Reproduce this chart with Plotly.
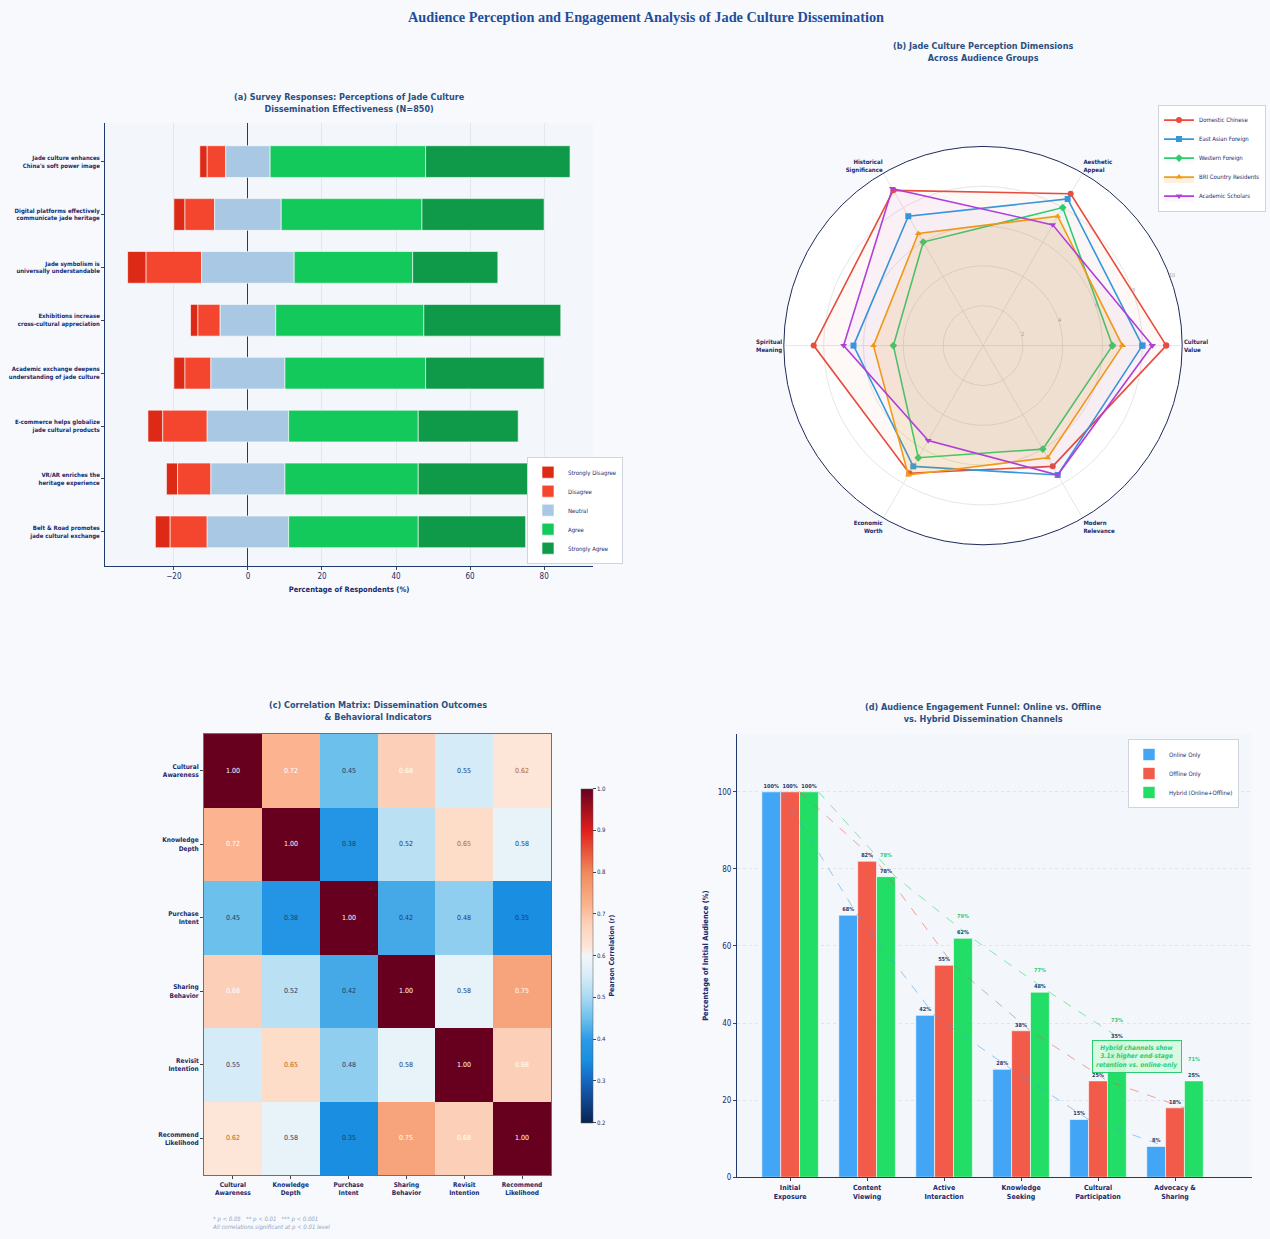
import plotly.graph_objects as go

W, H = 1270, 1239

# ---------------- (a) Likert survey (N=850) ----------------
statements = [
    "Jade culture enhances<br>China's soft power image",
    "Digital platforms effectively<br>communicate jade heritage",
    "Jade symbolism is<br>universally understandable",
    "Exhibitions increase<br>cross-cultural appreciation",
    "Academic exchange deepens<br>understanding of jade culture",
    "E-commerce helps globalize<br>jade cultural products",
    "VR/AR enriches the<br>heritage experience",
    "Belt & Road promotes<br>jade cultural exchange",
]
strongly_disagree = [2, 3, 5, 2, 3, 4, 3, 4]
disagree = [5, 8, 15, 6, 7, 12, 9, 10]
neutral = [12, 18, 25, 15, 20, 22, 20, 22]
agree = [42, 38, 32, 40, 38, 35, 36, 35]
strongly_agree = [39, 33, 23, 37, 32, 27, 32, 29]
likert_labels = ["Strongly Disagree", "Disagree", "Neutral", "Agree", "Strongly Agree"]

# ---------------- (b) radar perception dimensions ----------------
dimensions = ["Cultural<br>Value", "Aesthetic<br>Appeal", "Historical<br>Significance",
              "Spiritual<br>Meaning", "Economic<br>Worth", "Modern<br>Relevance"]
groups = ["Domestic Chinese", "East Asian Foreign", "Western Foreign",
          "BRI Country Residents", "Academic Scholars"]
domestic_chinese = [9.2, 8.8, 9.0, 8.5, 7.4, 7.0]
east_asian_foreign = [8.0, 8.5, 7.5, 6.5, 7.0, 7.5]
western_foreign = [6.5, 8.0, 6.0, 4.5, 6.5, 6.0]
bri_residents = [7.0, 7.5, 6.5, 5.5, 7.5, 6.5]
academic_scholars = [8.5, 7.0, 9.1, 7.0, 5.5, 7.5]

# ---------------- (c) correlation matrix ----------------
indicators = ["Cultural<br>Awareness", "Knowledge<br>Depth", "Purchase<br>Intent",
              "Sharing<br>Behavior", "Revisit<br>Intention", "Recommend<br>Likelihood"]
corr_cultural_awareness = [1.00, 0.72, 0.45, 0.68, 0.55, 0.62]
corr_knowledge_depth = [0.72, 1.00, 0.38, 0.52, 0.65, 0.58]
corr_purchase_intent = [0.45, 0.38, 1.00, 0.42, 0.48, 0.35]
corr_sharing_behavior = [0.68, 0.52, 0.42, 1.00, 0.58, 0.75]
corr_revisit_intention = [0.55, 0.65, 0.48, 0.58, 1.00, 0.68]
corr_recommend_likelihood = [0.62, 0.58, 0.35, 0.75, 0.68, 1.00]

# ---------------- (d) engagement funnel ----------------
stages = ["Initial<br>Exposure", "Content<br>Viewing", "Active<br>Interaction",
          "Knowledge<br>Seeking", "Cultural<br>Participation", "Advocacy &<br>Sharing"]
online_only = [100, 68, 42, 28, 15, 8]
offline_only = [100, 82, 55, 38, 25, 18]
hybrid = [100, 78, 62, 48, 35, 25]
channel_names = ["Online Only", "Offline Only", "Hybrid (Online+Offline)"]

# ---------------- styling ----------------
FONT = "Liberation Sans Narrow, DejaVu Sans Condensed, Open Sans, sans-serif"
NAVY = "#1b2a6b"
TITLE_BLUE = "#2b4f81"
PAPER = "#f8f9fc"
PLOT_BG = "#f3f6fa"


def fx(px):
    return px / W


def fy(py):
    return 1 - py / H


fig = go.Figure()

# ---- (a) diverging stacked bars ----
likert_colors = ["#dc2a16", "#f4452f", "#a9c8e4", "#14c95c", "#0e9a48"]
segments = [strongly_disagree, disagree, neutral, agree, strongly_agree]
bases = [[], [], [], [], []]
for i in range(len(statements)):
    half = neutral[i] / 2
    bases[0].append(-(half + disagree[i] + strongly_disagree[i]))
    bases[1].append(-(half + disagree[i]))
    bases[2].append(-half)
    bases[3].append(half)
    bases[4].append(half + agree[i])

for k, name in enumerate(likert_labels):
    fig.add_trace(go.Bar(
        y=statements, x=segments[k], base=bases[k], orientation="h",
        name=name, marker=dict(color=likert_colors[k], line=dict(color="white", width=0.6)),
        width=0.6, xaxis="x", yaxis="y", legend="legend",
        hovertemplate="%{y}<br>" + name + ": %{x}%<extra></extra>",
    ))

# ---- (b) radar ----
radar_series = [domestic_chinese, east_asian_foreign, western_foreign, bri_residents, academic_scholars]
radar_colors = ["#e74c3c", "#3498db", "#2ecc71", "#f39c12", "#b03fd8"]
radar_fill = ["rgba(231,76,60,0.04)", "rgba(52,152,219,0.02)", "rgba(46,204,113,0.03)",
              "rgba(243,156,18,0.14)", "rgba(176,63,216,0.04)"]
radar_symbols = ["circle", "square", "diamond", "triangle-up", "triangle-down"]
for name, vals, col, fc, sym in zip(groups, radar_series, radar_colors, radar_fill, radar_symbols):
    fig.add_trace(go.Scatterpolar(
        r=vals + vals[:1], theta=dimensions + dimensions[:1], name=name,
        mode="lines+markers", fill="toself", fillcolor=fc,
        line=dict(color=col, width=1.6), marker=dict(symbol=sym, size=6, color=col),
        subplot="polar", legend="legend2",
    ))

# ---- (c) heatmap ----
corr = [corr_cultural_awareness, corr_knowledge_depth, corr_purchase_intent,
        corr_sharing_behavior, corr_revisit_intention, corr_recommend_likelihood]
corr_scale = [
    [0.0, "#08234f"], [0.125, "#1565c0"], [0.1875, "#1a8ee0"], [0.25, "#2b9ae6"],
    [0.3125, "#6cc0ec"], [0.375, "#a8d8f2"], [0.4375, "#d6ebf8"], [0.5, "#f3f6f9"],
    [0.525, "#fde6d8"], [0.5625, "#fddcc8"], [0.6, "#fcd0b8"], [0.65, "#fbb48f"],
    [0.75, "#f08a5d"], [0.875, "#e0201c"], [1.0, "#67001f"],
]
fig.add_trace(go.Heatmap(
    z=corr, x=indicators, y=indicators, zmin=0.2, zmax=1.0, colorscale=corr_scale,
    xaxis="x2", yaxis="y2", hovertemplate="%{y} / %{x}: %{z:.2f}<extra></extra>",
    colorbar=dict(
        x=fx(571), xanchor="left", y=fy(959.5), yanchor="middle",
        len=355 / H, lenmode="fraction", thickness=12, outlinewidth=0.5, outlinecolor="#555",
        tickvals=[0.2, 0.3, 0.4, 0.5, 0.6, 0.7, 0.8, 0.9, 1.0],
        ticktext=["0.2", "0.3", "0.4", "0.5", "0.6", "0.7", "0.8", "0.9", "1.0"],
        ticks="outside", ticklen=3,
        tickfont=dict(size=6, color=NAVY, family=FONT),
        title=dict(text="Pearson Correlation (r)", side="right",
                   font=dict(size=7, color=NAVY, family=FONT, weight="bold")),
    ),
))

annotations = []
for r, row in enumerate(corr):
    for c, v in enumerate(row):
        if v >= 0.66:
            tc = "white"
        elif v >= 0.6:
            tc = "#b5651d"
        else:
            tc = "#1a3a6b"
        annotations.append(dict(
            x=indicators[c], y=indicators[r], xref="x2", yref="y2", text=f"{v:.2f}",
            showarrow=False, font=dict(size=7, color=tc, family=FONT),
        ))

# ---- (d) grouped funnel bars ----
funnel_series = [online_only, offline_only, hybrid]
funnel_colors = ["#42a5f5", "#f25a4a", "#22dd66"]
bar_w = 0.245
offsets = [-1.5 * bar_w, -0.5 * bar_w, 0.5 * bar_w]
stage_pos = list(range(len(stages)))
for name, vals, col, off in zip(channel_names, funnel_series, funnel_colors, offsets):
    fig.add_trace(go.Bar(
        x=stage_pos, y=vals, name=name, width=bar_w, offset=off,
        marker=dict(color=col, line=dict(color="white", width=0.6)),
        text=[f"{v}%" for v in vals], textposition="outside", textangle=0,
        constraintext="none", cliponaxis=False,
        textfont=dict(size=5.5, color="#1f3a6b", family=FONT, weight="bold"),
        xaxis="x3", yaxis="y3", legend="legend3",
    ))
for vals, col, off in zip(funnel_series, funnel_colors, offsets):
    fig.add_trace(go.Scatter(
        x=[p + off + bar_w for p in stage_pos], y=vals, mode="lines",
        line=dict(color=col, width=1, dash="dash"), opacity=0.55,
        xaxis="x3", yaxis="y3", showlegend=False, hoverinfo="skip",
    ))

# stage-to-stage conversion for the hybrid channel
for i in range(1, len(hybrid)):
    conv = round(hybrid[i] / hybrid[i - 1] * 100)
    annotations.append(dict(
        x=stage_pos[i] + offsets[2] + bar_w / 2, y=hybrid[i], xref="x3", yref="y3",
        text=f"{conv}%", showarrow=False, yshift=22,
        font=dict(size=5.5, color="#2ecc71", family=FONT, weight="bold"),
    ))

ratio = hybrid[-1] / online_only[-1]
annotations.append(dict(
    x=4.51, y=31.3, xref="x3", yref="y3",
    text=f"<i>Hybrid channels show<br>{ratio:.1f}x higher end-stage<br>retention vs. online-only</i>",
    showarrow=False, font=dict(size=6.5, color="#2ecc71", family=FONT, weight="bold"),
    bgcolor="rgba(214,248,224,0.92)", bordercolor="#2ecc71", borderwidth=1, borderpad=3,
))


def paper_text(x, y, text, font, **kw):
    d = dict(x=fx(x), y=fy(y), xref="paper", yref="paper", text=text, showarrow=False,
             xanchor="center", yanchor="middle", font=font)
    d.update(kw)
    return d


# ---- titles ----
title_font = dict(size=9, color=TITLE_BLUE, family=FONT, weight="bold")
annotations += [
    paper_text(646, 17, "Audience Perception and Engagement Analysis of Jade Culture Dissemination",
               dict(size=14.3, color="#1f4e9c", family="Liberation Serif, DejaVu Serif, serif", weight="bold")),
    paper_text(349, 103.5,
               "(a) Survey Responses: Perceptions of Jade Culture<br>Dissemination Effectiveness (N=850)",
               title_font),
    paper_text(983, 52.5, "(b) Jade Culture Perception Dimensions<br>Across Audience Groups", title_font),
    paper_text(378, 713.5, "(c) Correlation Matrix: Dissemination Outcomes<br>& Behavioral Indicators",
               title_font),
    paper_text(983, 715.5,
               "(d) Audience Engagement Funnel: Online vs. Offline<br>vs. Hybrid Dissemination Channels",
               title_font),
    paper_text(210, 1228,
               "<i>* p < 0.05   ** p < 0.01   *** p < 0.001<br>All correlations significant at p < 0.01 level</i>",
               dict(size=6, color="#8aa4c8", family=FONT), xanchor="left", align="left"),
]

tick_font_a = dict(size=6, color=NAVY, family=FONT, weight="bold")
tick_font = dict(size=6.5, color=NAVY, family=FONT, weight="bold")
axis_title_font = dict(size=7.5, color=NAVY, family=FONT, weight="bold")
legend_common = dict(bgcolor="white", bordercolor="#d0d4dc", borderwidth=1,
                     font=dict(size=6, color=NAVY, family=FONT),
                     itemwidth=30, tracegroupgap=0)

fig.update_layout(
    width=W, height=H, margin=dict(l=0, r=0, t=0, b=0),
    paper_bgcolor=PAPER, plot_bgcolor=PLOT_BG, barmode="overlay",
    font=dict(family=FONT, color=NAVY),
    annotations=annotations,
    # (a)
    xaxis=dict(domain=[fx(105), fx(593)], range=[-38.6, 93.2],
               tickvals=[-20, 0, 20, 40, 60, 80], showgrid=True, gridcolor="#e3e8ef",
               zeroline=True, zerolinecolor="#1f3a6b", zerolinewidth=1.2,
               showline=True, linecolor="#1f3a6b", linewidth=1, ticks="outside", ticklen=3,
               tickfont=dict(size=8, color=NAVY, family=FONT),
               title=dict(text="Percentage of Respondents (%)", font=axis_title_font, standoff=6),
               anchor="y"),
    yaxis=dict(domain=[fy(568), fy(124)], range=[7.64, -0.72], type="category",
               showline=True, linecolor="#1f3a6b", linewidth=1, ticks="outside", ticklen=3,
               tickfont=tick_font_a, showgrid=False, anchor="x"),
    legend=dict(x=fx(527), y=fy(566), xanchor="left", yanchor="bottom", **legend_common),
    # (b)
    polar=dict(
        domain=dict(x=[fx(783), fx(1183)], y=[fy(547), fy(147)]),
        bgcolor="white",
        radialaxis=dict(range=[0, 10], tickvals=[2, 4, 6, 8, 10], angle=22, tickangle=22,
                        showline=False, gridcolor="#e6e6e6", ticks="",
                        tickfont=dict(size=5.5, color="#9aa0a8", family=FONT)),
        angularaxis=dict(rotation=0, direction="counterclockwise",
                         linecolor="#1f2a5a", linewidth=1, gridcolor="#e6e6e6", ticks="",
                         tickfont=dict(size=6, color=NAVY, family=FONT, weight="bold")),
    ),
    legend2=dict(x=fx(1266), y=fy(105), xanchor="right", yanchor="top", **legend_common),
    # (c)
    xaxis2=dict(domain=[fx(204), fx(551)], anchor="y2", tickfont=tick_font,
                showline=True, mirror=True, linecolor="#a0603a", linewidth=1,
                ticks="outside", ticklen=3, showgrid=False),
    yaxis2=dict(domain=[fy(1180), fy(737)], anchor="x2", autorange="reversed", tickfont=tick_font,
                showline=True, mirror=True, linecolor="#a0603a", linewidth=1,
                ticks="outside", ticklen=3, showgrid=False),
    # (d)
    xaxis3=dict(domain=[fx(737), fx(1252)], anchor="y3", range=[-0.69, 6.0],
                tickvals=stage_pos, ticktext=stages, tickfont=dict(size=7, color=NAVY, family=FONT,
                                                                   weight="bold"),
                showline=True, linecolor="#1f3a6b", linewidth=1, ticks="outside", ticklen=3,
                showgrid=False, zeroline=False),
    yaxis3=dict(domain=[fy(1182), fy(737)], anchor="x3", range=[0, 115],
                tickvals=[0, 20, 40, 60, 80, 100], tickfont=dict(size=8, color=NAVY, family=FONT),
                showline=True, linecolor="#1f3a6b", linewidth=1, ticks="outside", ticklen=3,
                showgrid=True, gridcolor="#dfe4ec", griddash="dot", zeroline=False,
                title=dict(text="Percentage of Initial Audience (%)", font=axis_title_font, standoff=8)),
    legend3=dict(x=fx(1128), y=fy(742), xanchor="left", yanchor="top", **legend_common),
)

fig.write_html("out.html")
